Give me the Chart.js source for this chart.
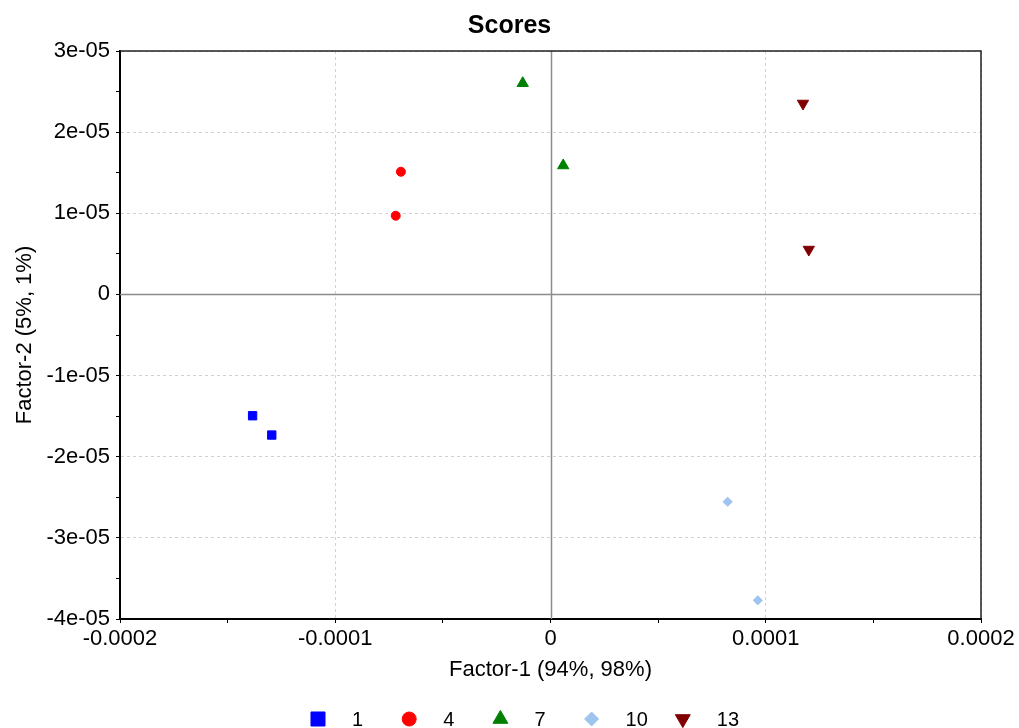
<!DOCTYPE html>
<html>
<head>
<meta charset="utf-8">
<title>Scores</title>
<script src="https://cdn.jsdelivr.net/npm/chart.js@4/dist/chart.umd.min.js"></script>
<style>
  html, body { margin: 0; padding: 0; background: #ffffff; }
  #wrap { width: 1019px; height: 728px; }
</style>
</head>
<body>
<div id="wrap"><canvas id="scores" width="1019" height="728"></canvas></div>
<script>
// Score values per sample group: Factor-1 (x) and Factor-2 (y)
const groupNames = ['1', '4', '7', '10', '13'];

const group1X = [-1.384e-4, -1.295e-4];
const group1Y = [-1.495e-5, -1.733e-5];

const group4X = [-6.95e-5, -7.19e-5];
const group4Y = [1.512e-5, 9.70e-6];

const group7X = [-1.29e-5, 5.9e-6];
const group7Y = [2.603e-5, 1.589e-5];

const group10X = [8.23e-5, 9.63e-5];
const group10Y = [-2.555e-5, -3.770e-5];

const group13X = [1.173e-4, 1.200e-4];
const group13Y = [2.353e-5, 5.53e-6];

// Axis ticks and their labels
const xMajorTicks = [-0.0002, -0.0001, 0, 0.0001, 0.0002];
const xTickLabels = ['-0.0002', '-0.0001', '0', '0.0001', '0.0002'];
const yMajorTicks = [-4e-5, -3e-5, -2e-5, -1e-5, 0, 1e-5, 2e-5, 3e-5];
const yTickLabels = ['-4e-05', '-3e-05', '-2e-05', '-1e-05', '0', '1e-05', '2e-05', '3e-05'];

const FONT = 'Arial, "Liberation Sans", Helvetica, sans-serif';

// Major ticks plus an unlabeled minor tick halfway between each pair
function withMinorTicks(majors) {
  const out = [];
  for (let i = 0; i < majors.length; i++) {
    out.push(majors[i]);
    if (i < majors.length - 1) out.push((majors[i] + majors[i + 1]) / 2);
  }
  return out;
}
function majorIndex(majors, v) {
  const span = Math.abs(majors[majors.length - 1] - majors[0]);
  return majors.findIndex(m => Math.abs(m - v) < span * 1e-6);
}
function zip(xs, ys) { return xs.map((x, i) => ({ x: x, y: ys[i] })); }

const seriesStyle = [
  { color: '#0000ff', pointStyle: 'rect',     rotation: 0,   radius: 5.9, legendRadius: 9.9 },
  { color: '#ff0000', pointStyle: 'circle',   rotation: 0,   radius: 4.5, legendRadius: 7 },
  { color: '#008000', pointStyle: 'triangle', rotation: 0,   radius: 6.5, legendRadius: 8.6 },
  { color: '#9fc4ef', pointStyle: 'rectRot',  rotation: 0,   radius: 4.6, legendRadius: 7 },
  { color: '#800000', pointStyle: 'triangle', rotation: 180, radius: 6.5, legendRadius: 8.6 }
];
const seriesX = [group1X, group4X, group7X, group10X, group13X];
const seriesY = [group1Y, group4Y, group7Y, group10Y, group13Y];

const datasets = groupNames.map((name, i) => ({
  label: name,
  data: zip(seriesX[i], seriesY[i]),
  backgroundColor: seriesStyle[i].color,
  borderColor: seriesStyle[i].color,
  borderWidth: 1,
  pointStyle: seriesStyle[i].pointStyle,
  rotation: seriesStyle[i].rotation,
  pointRadius: seriesStyle[i].radius,
  pointHoverRadius: seriesStyle[i].radius
}));

// Solid grey lines through the origin
const zeroLines = {
  id: 'zeroLines',
  beforeDatasetsDraw(chart, args, opts) {
    const { ctx, chartArea: a, scales: { x, y } } = chart;
    const px = Math.round(x.getPixelForValue(0)) + 0.5;
    const py = Math.round(y.getPixelForValue(0)) + 0.5;
    ctx.save();
    ctx.strokeStyle = opts.color;
    ctx.lineWidth = opts.width;
    ctx.beginPath();
    ctx.moveTo(px, a.top); ctx.lineTo(px, a.bottom);
    ctx.moveTo(a.left, py); ctx.lineTo(a.right, py);
    ctx.stroke();
    ctx.restore();
  }
};

// Top and right edges of the plot frame
const plotFrame = {
  id: 'plotFrame',
  afterDatasetsDraw(chart, args, opts) {
    const { ctx, chartArea: a } = chart;
    ctx.save();
    ctx.strokeStyle = opts.color;
    ctx.lineWidth = opts.width;
    ctx.beginPath();
    ctx.moveTo(a.left, a.top); ctx.lineTo(a.right, a.top); ctx.lineTo(a.right, a.bottom);
    ctx.stroke();
    ctx.restore();
  }
};

// Evenly spaced key row under the plot
const keyRow = {
  id: 'keyRow',
  afterDraw(chart, args, opts) {
    const ctx = chart.ctx;
    const drawPoint = Chart.helpers && Chart.helpers.drawPoint;
    ctx.save();
    ctx.font = opts.fontSize + 'px ' + FONT;
    ctx.textBaseline = 'middle';
    ctx.textAlign = 'left';
    chart.data.datasets.forEach((ds, i) => {
      const cx = opts.startX + i * opts.step;
      const st = seriesStyle[i];
      ctx.fillStyle = st.color;
      ctx.strokeStyle = st.color;
      ctx.lineWidth = 1;
      if (drawPoint) {
        drawPoint(ctx, { pointStyle: st.pointStyle, rotation: st.rotation, radius: st.legendRadius, borderWidth: 1 }, cx, opts.y);
      } else {
        ctx.beginPath(); ctx.arc(cx, opts.y, 7, 0, Math.PI * 2); ctx.fill();
      }
      ctx.fillStyle = '#000000';
      ctx.fillText(ds.label, cx + opts.textGap, opts.y + 1);
    });
    ctx.restore();
  }
};

new Chart(document.getElementById('scores'), {
  type: 'scatter',
  data: { datasets: datasets },
  plugins: [zeroLines, plotFrame, keyRow],
  options: {
    responsive: false,
    animation: false,
    events: [],
    layout: { padding: { left: 0, right: 0, top: 0, bottom: 45 } },
    plugins: {
      legend: { display: false },
      tooltip: { enabled: false },
      title: {
        display: true,
        text: 'Scores',
        color: '#000000',
        font: { family: FONT, size: 25, weight: 'bold' },
        padding: { top: 11, bottom: 10 }
      },
      zeroLines: { color: '#8c8c8c', width: 1.5 },
      plotFrame: { color: '#222222', width: 1.5 },
      keyRow: { startX: 318, step: 91.2, textGap: 34, y: 719, fontSize: 20 }
    },
    scales: {
      x: {
        type: 'linear',
        min: -0.0002,
        max: 0.0002,
        afterBuildTicks(scale) {
          scale.ticks = withMinorTicks(xMajorTicks).map(v => ({ value: v }));
        },
        afterFit(scale) {
          scale.height = 64;
          scale.paddingLeft = 0;
          scale.paddingRight = 38;
        },
        ticks: {
          autoSkip: false,
          maxRotation: 0,
          padding: 3,
          color: '#000000',
          font: { family: FONT, size: 22 },
          callback(value) {
            const k = majorIndex(xMajorTicks, value);
            return k >= 0 ? xTickLabels[k] : '';
          }
        },
        grid: {
          drawOnChartArea: true,
          drawTicks: true,
          tickLength: 4,
          tickColor: '#000000',
          tickWidth: 1,
          tickBorderDash: [],
          lineWidth: 1,
          color(ctx) {
            if (!ctx.tick) return 'rgba(0,0,0,0)';
            const k = majorIndex(xMajorTicks, ctx.tick.value);
            return (k >= 0 && xMajorTicks[k] !== 0) ? '#d2d2d2' : 'rgba(0,0,0,0)';
          }
        },
        border: { display: true, color: '#000000', width: 2, dash: [3, 3] },
        title: {
          display: true,
          text: 'Factor-1 (94%, 98%)',
          color: '#000000',
          font: { family: FONT, size: 22 },
          padding: { top: 5, bottom: 0 }
        }
      },
      y: {
        type: 'linear',
        min: -4e-5,
        max: 3e-5,
        afterBuildTicks(scale) {
          scale.ticks = withMinorTicks(yMajorTicks).map(v => ({ value: v }));
        },
        afterFit(scale) {
          scale.width = 120;
        },
        ticks: {
          autoSkip: false,
          padding: 6,
          color: '#000000',
          font: { family: FONT, size: 22 },
          callback(value) {
            const k = majorIndex(yMajorTicks, value);
            return k >= 0 ? yTickLabels[k] : '';
          }
        },
        grid: {
          drawOnChartArea: true,
          drawTicks: true,
          tickLength: 4,
          tickColor: '#000000',
          tickWidth: 1,
          tickBorderDash: [],
          lineWidth: 1,
          color(ctx) {
            if (!ctx.tick) return 'rgba(0,0,0,0)';
            const k = majorIndex(yMajorTicks, ctx.tick.value);
            return (k >= 0 && yMajorTicks[k] !== 0) ? '#d2d2d2' : 'rgba(0,0,0,0)';
          }
        },
        border: { display: true, color: '#000000', width: 2, dash: [3, 3] },
        title: {
          display: true,
          text: 'Factor-2 (5%, 1%)',
          color: '#000000',
          font: { family: FONT, size: 22 },
          padding: { top: 12, bottom: 0 }
        }
      }
    }
  }
});
</script>
</body>
</html>
